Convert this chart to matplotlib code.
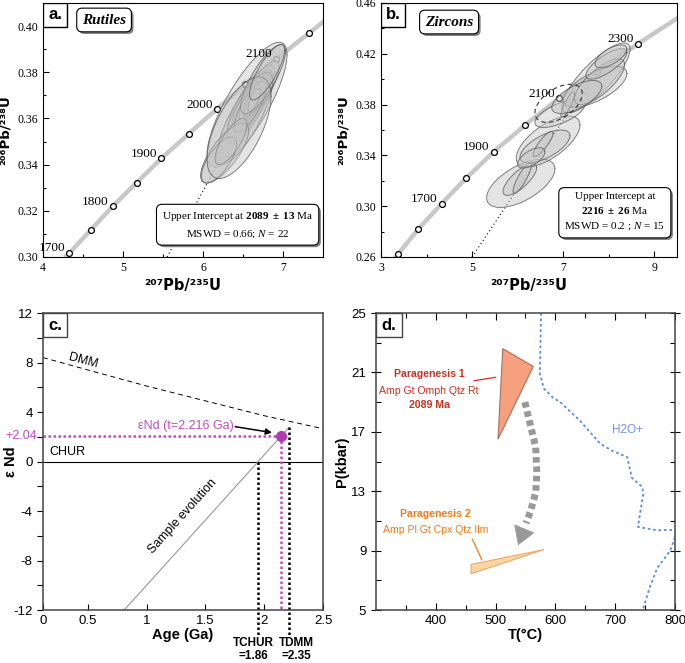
import numpy as np
import matplotlib.pyplot as plt
from matplotlib import font_manager
from matplotlib.patches import Rectangle, Polygon
from matplotlib.ticker import FormatStrFormatter
import matplotlib.patheffects as pe

plt.rcParams['font.family'] = ['Liberation Sans', 'DejaVu Sans']
plt.rcParams['axes.unicode_minus'] = False
plt.rcParams['mathtext.fontset'] = 'custom'
plt.rcParams['mathtext.rm'] = 'Liberation Serif'
plt.rcParams['mathtext.bf'] = 'Liberation Serif:bold'
plt.rcParams['mathtext.it'] = 'Liberation Serif:italic'

# ---- panel a: rutiles concordia ----
conc_a_x = [4.27, 4.33, 4.60, 4.87, 5.17, 5.48, 5.82, 6.17, 6.53, 6.91, 7.32, 7.55]
conc_a_y = [0.300, 0.3017, 0.3118, 0.3219, 0.3322, 0.3427, 0.3533, 0.3640, 0.3748, 0.3857, 0.3968, 0.4032]
ages_a = ['1700', '1750', '1800', '1850', '1900', '1950', '2000', '2050', '2100', '2150']
labels_a = ['1700', '1800', '1900', '2000', '2100']

ru_x = [6.55, 6.60, 6.62, 6.58, 6.65, 6.63, 6.60, 6.68, 6.57, 6.62, 6.70, 6.52, 6.66, 6.61, 6.59, 6.64, 6.75, 6.27, 6.20, 6.35, 6.45, 6.80]
ru_sx = [0.50, 0.30, 0.25, 0.22, 0.20, 0.18, 0.15, 0.17, 0.28, 0.12, 0.25, 0.35, 0.14, 0.10, 0.20, 0.08, 0.28, 0.30, 0.22, 0.20, 0.40, 0.22]
ru_y = [0.366, 0.367, 0.368, 0.366, 0.369, 0.368, 0.366, 0.370, 0.364, 0.367, 0.372, 0.360, 0.369, 0.367, 0.365, 0.368, 0.377, 0.345, 0.342, 0.350, 0.356, 0.380]
ru_sy = [0.027, 0.016, 0.013, 0.012, 0.011, 0.010, 0.008, 0.009, 0.015, 0.007, 0.013, 0.020, 0.008, 0.006, 0.011, 0.005, 0.015, 0.013, 0.010, 0.010, 0.022, 0.012]
ru_rho = [0.80, 0.80, 0.80, 0.78, 0.78, 0.78, 0.76, 0.78, 0.80, 0.76, 0.80, 0.80, 0.76, 0.74, 0.78, 0.74, 0.80, 0.75, 0.70, 0.75, 0.62, 0.80]
disc_a_x = [5.55, 6.87]
disc_a_y = [0.300, 0.384]

# ---- panel b: zircons concordia ----
conc_b_x = [3.28, 3.37, 3.82, 4.33, 4.87, 5.48, 6.17, 6.91, 7.75, 8.65, 9.55]
conc_b_y = [0.258, 0.262, 0.282, 0.302, 0.322, 0.343, 0.364, 0.385, 0.406, 0.428, 0.449]
ages_b = ['1500', '1600', '1700', '1800', '1900', '2000', '2100', '2200', '2300']
labels_b = ['1700', '1900', '2100', '2300']

zr_x = [6.07, 6.05, 6.10, 6.67, 6.60, 6.56, 6.30, 6.93, 7.72, 7.70, 7.80, 7.95, 8.05, 7.10, 7.30]
zr_sx = [0.75, 0.37, 0.20, 0.70, 0.55, 0.22, 0.30, 0.55, 0.75, 0.70, 0.55, 0.45, 0.35, 0.15, 0.55]
zr_y = [0.318, 0.321, 0.322, 0.351, 0.347, 0.349, 0.338, 0.373, 0.401, 0.394, 0.398, 0.412, 0.418, 0.380, 0.386]
zr_sy = [0.019, 0.0125, 0.012, 0.020, 0.013, 0.010, 0.008, 0.011, 0.0276, 0.016, 0.018, 0.012, 0.009, 0.010, 0.013]
zr_rho = [0.6, 0.75, 0.85, 0.65, 0.65, 0.85, 0.6, 0.65, 0.82, 0.65, 0.75, 0.75, 0.65, 0.85, 0.65]
zr_excl = [6.90, 0.381, 0.52, 0.015, 0.5]   # dashed, rejected analysis
disc_b_x = [5.0, 7.7]
disc_b_y = [0.260, 0.405]

# ---- panel c: Nd evolution ----
dmm_age = [0.12, 0.5, 1.0, 1.5, 2.0, 2.5]
dmm_eps = [8.4, 7.4, 6.1, 4.9, 3.7, 2.65]
sample_age = [0.81, 2.21]
sample_eps = [-12.0, 2.75]
t_chur = 1.95
t_dmm = 2.21
pt_age = 2.14
pt_eps = 2.04

# ---- panel d: P-T ----
par1_T = [512, 563, 504]
par1_P = [22.6, 21.4, 16.5]
par2_T = [459, 459, 581]
par2_P = [8.07, 7.44, 9.07]
path_T = [549, 556, 567, 569, 567, 558, 551]
path_P = [19.0, 17.8, 16.0, 14.2, 12.9, 11.6, 10.85]
head_T = [532, 564, 538]
head_P = [10.73, 10.2, 9.4]
h2o_T1 = [576, 574, 581, 596, 608, 641, 675, 696, 720, 728, 745, 747, 738, 770, 800]
h2o_P1 = [25.0, 20.9, 19.9, 19.3, 19.0, 17.75, 16.2, 15.7, 15.3, 13.9, 13.3, 12.85, 10.6, 10.37, 10.4]
h2o_T2 = [800, 792, 770, 758, 746]
h2o_P2 = [9.9, 9.0, 7.8, 6.55, 5.0]


def ellipse(ax, cx, cy, sx, sy, r, fill=True, **kw):
    t = np.linspace(0, 2 * np.pi, 150)
    ex = cx + sx * np.cos(t)
    ey = cy + sy * (r * np.cos(t) + np.sqrt(1 - r ** 2) * np.sin(t))
    if fill:
        ax.fill(ex, ey, fc='#c4c4c4', ec='none', alpha=0.45, zorder=3)
        ax.plot(ex, ey, color='#555555', lw=0.6, alpha=0.85, zorder=3)
    else:
        ax.plot(ex, ey, **kw)


def panel_tag(ax, s, w, h, ec='k'):
    ax.add_patch(Rectangle((0, 1 - h), w, h, transform=ax.transAxes, fc='white',
                           ec=ec, lw=1.0, zorder=6))
    ax.text(w / 2, 1 - h / 2, s, transform=ax.transAxes, ha='center', va='center',
            fontsize=12, fontweight='bold', zorder=7)


def shadow_box(t):
    t.get_bbox_patch().set_path_effects([pe.SimplePatchShadow(offset=(1.5, -1.5), shadow_rgbFace='0.45', alpha=0.9),
                                         pe.Normal()])


def concordia(ax, cx, cy, ages, labels):
    ax.plot(cx, cy, color='#c8c8c8', lw=3.2, solid_capstyle='butt', zorder=1)
    ax.plot(cx[1:len(ages) + 1], cy[1:len(ages) + 1], 'o', ms=4.2, mfc='white', mec='k', mew=0.9, zorder=2)
    for i, a in enumerate(ages):
        if a in labels:
            ax.annotate(a, (cx[i + 1], cy[i + 1]), xytext=(-3, -1), textcoords='offset points',
                        ha='right', va='bottom', fontsize=9.5, family='Liberation Serif', zorder=5)


fig = plt.figure(figsize=(6.85, 6.63), dpi=100)

# ---------------- a ----------------
ax = fig.add_axes([0.0628, 0.6124, 0.4088, 0.3831])
concordia(ax, conc_a_x, conc_a_y, ages_a, labels_a)
ax.plot(disc_a_x, disc_a_y, ls=(0, (1, 2.5)), color='k', lw=0.8, zorder=2)
for i in range(len(ru_x)):
    ellipse(ax, ru_x[i], ru_y[i], ru_sx[i], ru_sy[i], ru_rho[i])
ax.set_xlim(4, 7.5)
ax.set_ylim(0.30, 0.41)
ax.set_xticks([4, 5, 6, 7])
ax.set_xticks(np.arange(4.5, 7.5, 0.5), minor=True)
ax.set_yticks([0.30, 0.32, 0.34, 0.36, 0.38, 0.40])
ax.set_yticks(np.arange(0.31, 0.41, 0.01), minor=True)
ax.yaxis.set_major_formatter(FormatStrFormatter('%.2f'))
ax.tick_params(direction='in', labelsize=8.5, labelfontfamily='Liberation Serif', length=4, width=0.8)
ax.tick_params(which='minor', direction='in', length=2.5, width=0.8)
ax.set_xlabel('²⁰⁷Pb/²³⁵U', fontsize=10.5, fontweight='bold', family='DejaVu Sans', labelpad=3)
ax.set_ylabel('²⁰⁶Pb/²³⁸U', fontsize=9.5, fontweight='bold', family='DejaVu Sans', labelpad=4)
panel_tag(ax, 'a.', 0.086, 0.094)
t = ax.text(0.218, 0.933, 'Rutiles', transform=ax.transAxes, ha='center', va='center', fontsize=11,
            family='Liberation Serif', fontweight='bold', style='italic', zorder=7,
            bbox=dict(boxstyle='round,pad=0.35', fc='white', ec='k', lw=0.8))
shadow_box(t)
t = ax.text(0.695, 0.126, 'Upper Intercept at $\\mathbf{2089\\ \\pm\\ 13}$ Ma\nMSWD = 0.66; $\\mathit{N}$ = 22',
            transform=ax.transAxes, ha='center', va='center', fontsize=8, family='Liberation Serif',
            linespacing=1.5, zorder=7, bbox=dict(boxstyle='round,pad=0.5', fc='white', ec='k', lw=0.8))
shadow_box(t)

# ---------------- b ----------------
ax = fig.add_axes([0.5562, 0.6124, 0.4321, 0.3831])
concordia(ax, conc_b_x, conc_b_y, ages_b, labels_b)
ax.plot(disc_b_x, disc_b_y, ls=(0, (1, 2.5)), color='k', lw=0.8, zorder=2)
for i in range(len(zr_x)):
    ellipse(ax, zr_x[i], zr_y[i], zr_sx[i], zr_sy[i], zr_rho[i])
ellipse(ax, *zr_excl, fill=False, color='#333333', lw=0.8, ls=(0, (4, 3)), zorder=4)
ax.set_xlim(3, 9.5)
ax.set_ylim(0.26, 0.46)
ax.set_xticks([3, 5, 7, 9])
ax.set_xticks([4, 6, 8], minor=True)
ax.set_yticks([0.26, 0.30, 0.34, 0.38, 0.42, 0.46])
ax.set_yticks(np.arange(0.28, 0.46, 0.04), minor=True)
ax.yaxis.set_major_formatter(FormatStrFormatter('%.2f'))
ax.tick_params(direction='in', labelsize=8.5, labelfontfamily='Liberation Serif', length=4, width=0.8)
ax.tick_params(which='minor', direction='in', length=2.5, width=0.8)
ax.set_xlabel('²⁰⁷Pb/²³⁵U', fontsize=10.5, fontweight='bold', family='DejaVu Sans', labelpad=3)
ax.set_ylabel('²⁰⁶Pb/²³⁸U', fontsize=9.5, fontweight='bold', family='DejaVu Sans', labelpad=4)
panel_tag(ax, 'b.', 0.081, 0.094)
t = ax.text(0.23, 0.925, 'Zircons', transform=ax.transAxes, ha='center', va='center', fontsize=11,
            family='Liberation Serif', fontweight='bold', style='italic', zorder=7,
            bbox=dict(boxstyle='round,pad=0.35', fc='white', ec='k', lw=0.8))
shadow_box(t)
t = ax.text(0.79, 0.177, 'Upper Intercept at\n$\\mathbf{2216\\ \\pm\\ 26}$ Ma\nMSWD = 0.2 ; $\\mathit{N}$ = 15',
            transform=ax.transAxes, ha='center', va='center', fontsize=8, family='Liberation Serif',
            linespacing=1.5, zorder=7, bbox=dict(boxstyle='round,pad=0.5', fc='white', ec='k', lw=0.8))
shadow_box(t)

# ---------------- c ----------------
purple = '#c24cc2'
ax = fig.add_axes([0.0628, 0.0799, 0.4088, 0.4480])
ax.plot(dmm_age, dmm_eps, color='k', lw=0.7, ls=(0, (5, 4)))
ax.plot([0.12, 2.5], [0, 0], color='k', lw=0.8)
ax.plot(sample_age, sample_eps, color='#999999', lw=0.8)
ax.plot([0.12, pt_age], [pt_eps, pt_eps], color=purple, lw=1.8, ls=(0, (1, 1)))
ax.plot([pt_age, pt_age], [pt_eps, -12], color=purple, lw=1.8, ls=(0, (1, 1)))
ax.plot([t_chur, t_chur], [0, -14.0], color='k', lw=1.8, ls=(0, (1, 1)), clip_on=False)
ax.plot([t_dmm, t_dmm], [sample_eps[1], -14.0], color='k', lw=1.8, ls=(0, (1, 1)), clip_on=False)
ax.plot([pt_age], [pt_eps], 'o', color='#b03cb0', ms=7, zorder=5)
ax.annotate('', xy=(2.09, 2.3), xytext=(1.73, 2.85),
            arrowprops=dict(arrowstyle='-|>', color='k', lw=1.1, mutation_scale=9))
ax.text(1.33, 2.9, 'εNd (t=2.216 Ga)', color=purple, fontsize=9, ha='center', va='center')
ax.text(-0.02, pt_eps, '+2.04', color=purple, fontsize=9, ha='right', va='center',
        transform=ax.get_yaxis_transform())
ax.text(0.17, 0.3, 'CHUR', fontsize=9, ha='left', va='bottom')
ax.text(0.46, 8.1, 'DMM', fontsize=9, ha='center', va='center', rotation=-15)
ax.text(1.31, -4.4, 'Sample evolution', fontsize=9, ha='center', va='center', rotation=48)
ax.text(t_chur - 0.04, -14.15, 'TCHUR\n=1.86', fontsize=8.5, fontweight='bold', ha='center', va='top',
        linespacing=1.2)
ax.text(t_dmm + 0.06, -14.15, 'TDMM\n=2.35', fontsize=8.5, fontweight='bold', ha='center', va='top',
        linespacing=1.2)
ax.set_xlim(0.12, 2.5)
ax.set_ylim(-12, 12)
ax.set_xticks([0.12, 0.5, 1, 1.5, 2, 2.5], ['0', '0.5', '1', '1.5', '2', '2.5'])
ax.set_yticks(np.arange(-12, 13, 4))
ax.set_yticks(np.arange(-10, 12, 4), minor=True)
ax.tick_params(axis='y', which='both', direction='out', labelsize=9.5, length=4, width=0.8)
ax.tick_params(axis='x', direction='in', labelsize=9.5, length=4, width=0.8)
for s in ax.spines.values():
    s.set_color('#444444')
    s.set_linewidth(1.1)
ax.set_xlabel('Age (Ga)', fontsize=10.5, fontweight='bold', labelpad=1)
ax.set_ylabel('ε Nd', fontsize=10.5, fontweight='bold')
ax.yaxis.set_label_coords(-0.088, 0.5)
panel_tag(ax, 'c.', 0.086, 0.081, ec='#444444')

# ---------------- d ----------------
names = {f.name for f in font_manager.fontManager.ttflist}
if 'Liberation Sans Narrow' in names:
    narrow, nsize = 'Liberation Sans Narrow', 8.5
else:
    narrow, nsize = 'Liberation Sans', 7.6
red = '#c9341f'
orange = '#f07c1a'
ax = fig.add_axes([0.5489, 0.0799, 0.4365, 0.4480])
ax.add_patch(Polygon(list(zip(par1_T, par1_P)), closed=True, fc='#f6a07e', ec='#a8705a', lw=0.8, zorder=3))
ax.add_patch(Polygon(list(zip(par2_T, par2_P)), closed=True, fc='#fed6a4', ec='#f0a868', lw=0.8, zorder=3))
ax.plot(path_T, path_P, color='#999999', lw=5, ls=(0, (0.8, 0.55)), solid_capstyle='butt', zorder=3)
ax.add_patch(Polygon(list(zip(head_T, head_P)), closed=True, fc='#999999', ec='#999999', lw=0.5, zorder=3))
ax.plot(h2o_T1, h2o_P1, color='#5b8fd8', lw=1.3, ls=(0, (1.5, 1.5)), clip_on=False)
ax.plot(h2o_T2, h2o_P2, color='#5b8fd8', lw=1.3, ls=(0, (1.5, 1.5)))
ax.text(721, 17.1, 'H2O+', color='#6a9be0', fontsize=8.5, ha='center', va='center')
ax.text(389, 20.9, 'Paragenesis 1', color=red, fontsize=nsize, fontweight='bold', family=narrow, ha='center', va='center')
ax.text(389, 19.78, 'Amp Gt Omph Qtz Rt', color=red, fontsize=nsize, family=narrow, ha='center', va='center')
ax.text(389, 18.78, '2089 Ma', color=red, fontsize=nsize, fontweight='bold', family=narrow, ha='center', va='center')
ax.plot([464, 500], [20.44, 20.67], color=red, lw=0.9)
ax.text(400, 11.44, 'Paragenesis 2', color=orange, fontsize=nsize, fontweight='bold', family=narrow, ha='center', va='center')
ax.text(400, 10.4, 'Amp Pl Gt Cpx Qtz Ilm', color=orange, fontsize=nsize, family=narrow, ha='center', va='center')
ax.plot([461, 477], [9.78, 8.38], color=orange, lw=0.9)
ax.set_xlim(300, 800)
ax.set_ylim(5, 25)
ax.set_xticks([400, 500, 600, 700, 800])
ax.set_xticks([350, 450, 550, 650, 750], minor=True)
ax.set_yticks([5, 9, 13, 17, 21, 25])
ax.set_yticks([7, 11, 15, 19, 23], minor=True)
ax.tick_params(which='both', top=True, right=True, direction='in', width=0.8, labelsize=9.5)
ax.tick_params(which='major', length=5)
ax.tick_params(which='minor', length=3.5)
ax.tick_params(axis='y', which='major', left=True, direction='inout', length=7)
for s in ax.spines.values():
    s.set_color('#444444')
    s.set_linewidth(1.1)
ax.set_xlabel('T(°C)', fontsize=10.5, fontweight='bold', labelpad=1)
ax.set_ylabel('P(kbar)', fontsize=10.5, fontweight='bold', labelpad=2)
panel_tag(ax, 'd.', 0.087, 0.081, ec='#444444')

fig.savefig('out.png', dpi=100)
